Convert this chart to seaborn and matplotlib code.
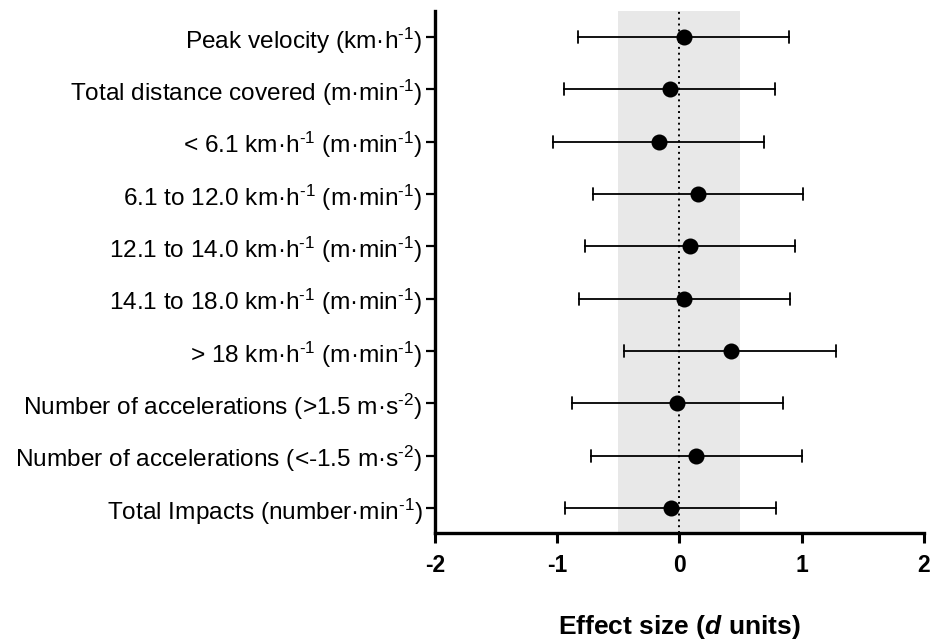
import matplotlib
matplotlib.use("Agg")
import matplotlib.pyplot as plt
import seaborn as sns
import pandas as pd

categories = [
    r"Peak velocity (km·h$^{\text{-1}}$)",
    r"Total distance covered (m·min$^{\text{-1}}$)",
    r"< 6.1 km·h$^{\text{-1}}$ (m·min$^{\text{-1}}$)",
    r"6.1 to 12.0 km·h$^{\text{-1}}$ (m·min$^{\text{-1}}$)",
    r"12.1 to 14.0 km·h$^{\text{-1}}$ (m·min$^{\text{-1}}$)",
    r"14.1 to 18.0 km·h$^{\text{-1}}$ (m·min$^{\text{-1}}$)",
    r"> 18 km·h$^{\text{-1}}$ (m·min$^{\text{-1}}$)",
    r"Number of accelerations (>1.5 m·s$^{\text{-2}}$)",
    r"Number of accelerations (<-1.5 m·s$^{\text{-2}}$)",
    r"Total Impacts (number·min$^{\text{-1}}$)",
]
effect = [0.04, -0.08, -0.17, 0.15, 0.09, 0.04, 0.42, -0.02, 0.14, -0.07]
ci_low = [-0.83, -0.94, -1.03, -0.71, -0.77, -0.82, -0.455, -0.875, -0.725, -0.935]
ci_high = [0.90, 0.78, 0.69, 1.01, 0.95, 0.905, 1.28, 0.845, 1.00, 0.79]
x_ticks = [-2, -1, 0, 1, 2]
trivial_band = (-0.5, 0.5)

sns.set_theme(style="ticks")
plt.rcParams["font.family"] = ["Liberation Sans", "DejaVu Sans"]
plt.rcParams["mathtext.fontset"] = "custom"
plt.rcParams["mathtext.rm"] = "Liberation Sans"
plt.rcParams["mathtext.it"] = "Liberation Sans:italic:bold"
plt.rcParams["mathtext.bf"] = "Liberation Sans:bold"
plt.rcParams["text.color"] = "black"
plt.rcParams["axes.labelcolor"] = "black"

# long-form table: median = estimate, 100% interval = CI bounds
rows = []
for c, lo, m, hi in zip(categories, ci_low, effect, ci_high):
    for v in (lo, m, hi):
        rows.append({"measure": c, "d": v})
df = pd.DataFrame(rows)

fig = plt.figure(figsize=(9.34, 6.44), dpi=100)
ax = fig.add_axes([0.4657, 0.1724, 0.5233, 0.8106])

ax.axvspan(trivial_band[0], trivial_band[1], color="#e8e8e8", zorder=0, lw=0)
ax.axvline(0, color="black", linestyle=(0, (1, 2)), linewidth=1.4, zorder=1)

sns.pointplot(
    data=df, x="d", y="measure", order=categories, orient="y",
    estimator="median", errorbar=("pi", 100),
    color="black", linestyle="none", marker="o", markersize=9.5,
    capsize=0.23, err_kws={"linewidth": 1.3}, ax=ax,
)

ax.set_xlim(-2, 2)
ax.set_ylim(9.48, -0.5)
ax.set_xticks(x_ticks)
ax.set_xticklabels([str(t) for t in x_ticks], fontsize=16.5, fontweight="bold")
ax.tick_params(axis="x", length=7, width=2.2, pad=8, colors="black")
ax.tick_params(axis="y", length=6.5, width=1.6, pad=2.5, labelsize=17.6, colors="black")
ax.set_ylabel("")
ax.set_xlabel(r"Effect size ($d$ units)", fontsize=19, fontweight="bold",
              labelpad=26, color="black")
for s in ["top", "right"]:
    ax.spines[s].set_visible(False)
for s in ["left", "bottom"]:
    ax.spines[s].set_linewidth(2.4)
    ax.spines[s].set_color("black")

fig.savefig("out.png", dpi=100)
